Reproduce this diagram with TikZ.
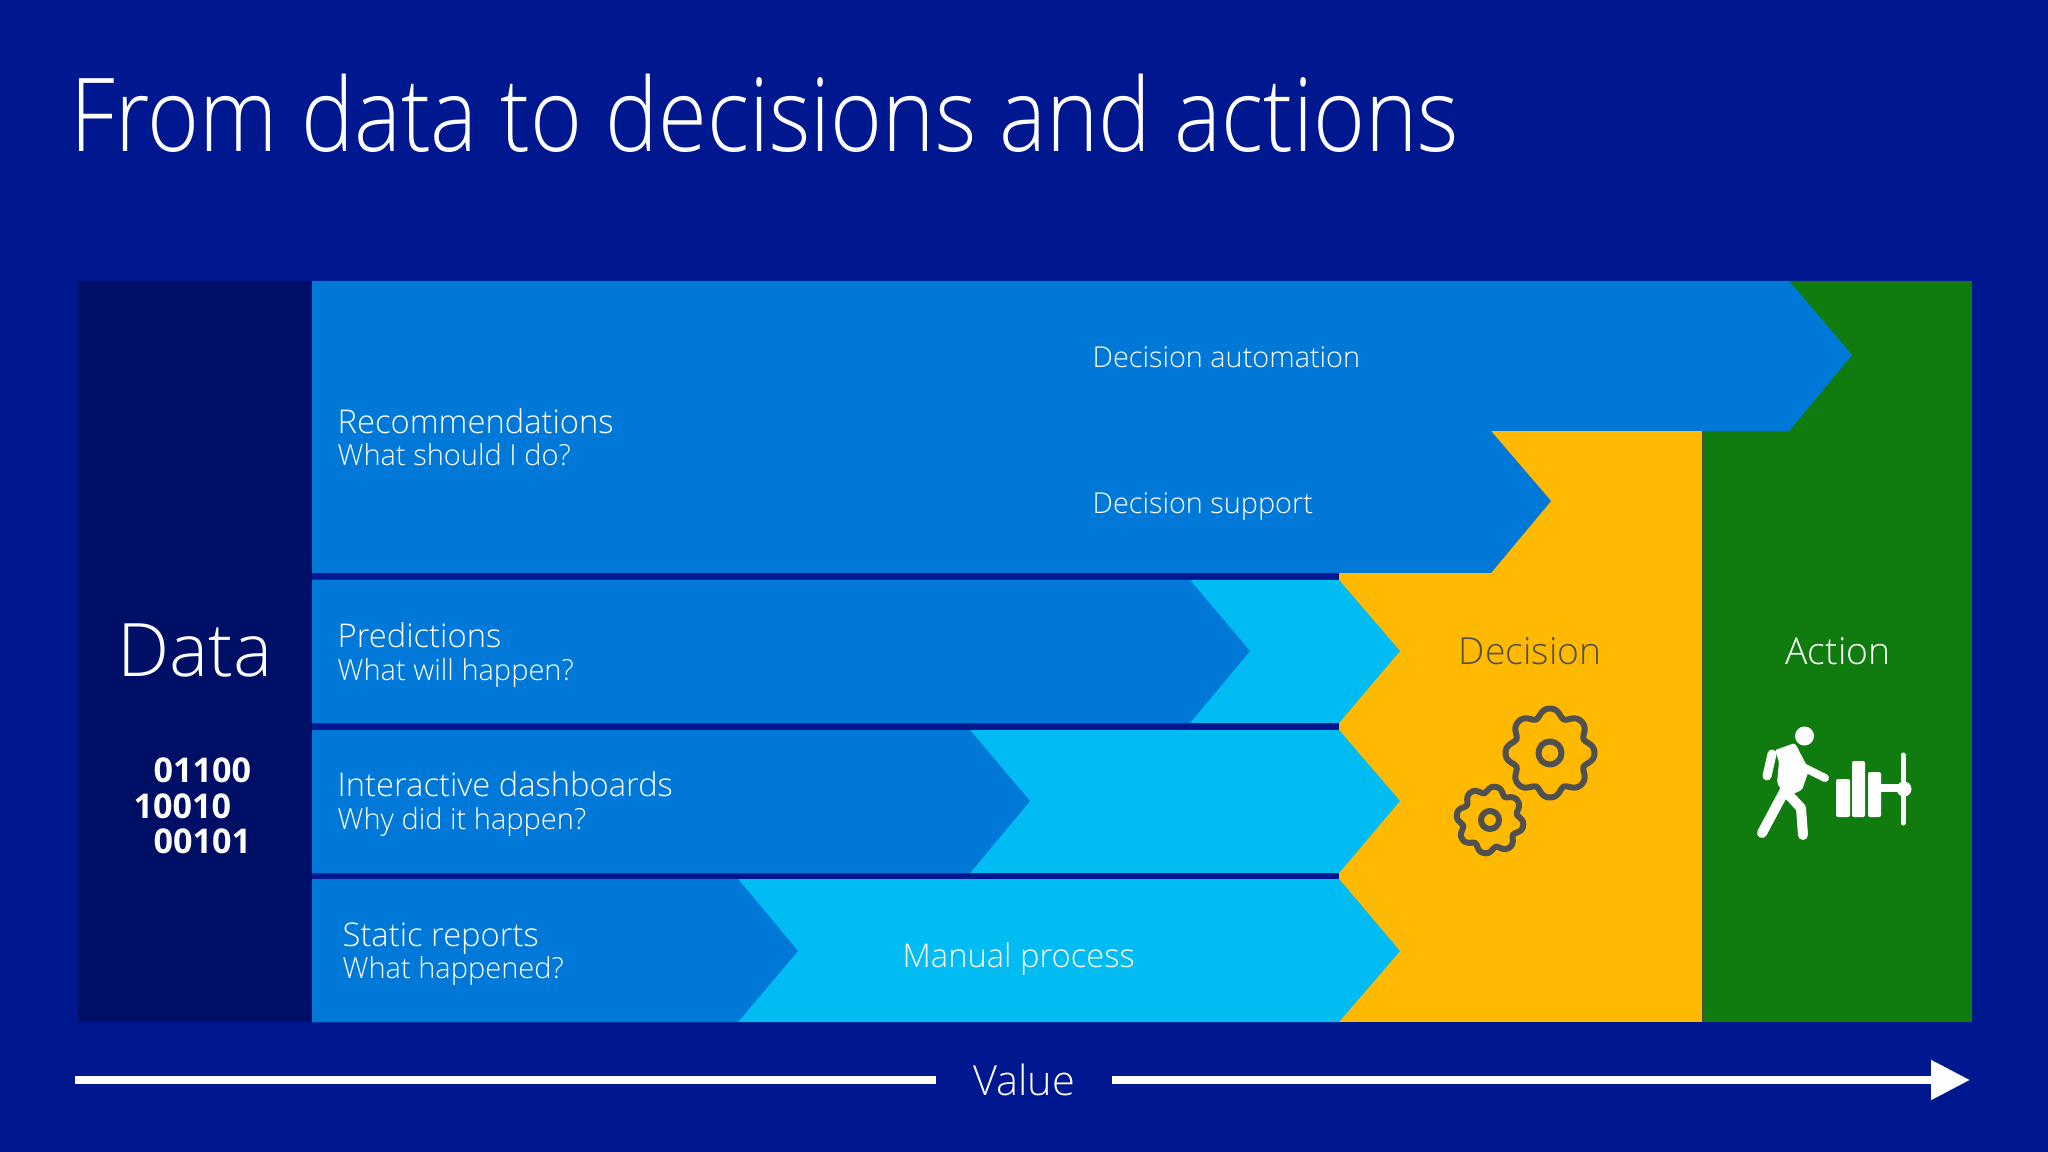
\documentclass[tikz,border=0pt]{standalone}
\usepackage{fontspec}
\setmainfont{Open Sans Light}
\newfontfamily\digitfont{Open Sans Bold}
\usetikzlibrary{arrows.meta}
\definecolor{bgblue}{HTML}{00188F}
\definecolor{datablue}{HTML}{000F66}
\definecolor{midblue}{HTML}{0078D7}
\definecolor{skyblue}{HTML}{00BCF2}
\definecolor{decyellow}{HTML}{FFB900}
\definecolor{actgreen}{HTML}{107C10}
\definecolor{geargray}{HTML}{505050}
\tikzstyle{title} = [anchor=base west, inner sep=0pt, text=white, xscale=0.87, font=\fontsize{29}{35}\selectfont]
\tikzstyle{head} = [anchor=base west, inner sep=0pt, text=white, font=\fontsize{9.3}{11}\selectfont]
\tikzstyle{sub} = [anchor=base west, inner sep=0pt, text=white, font=\fontsize{8.25}{10}\selectfont]
\tikzstyle{process} = [anchor=base west, inner sep=0pt, text=white, font=\fontsize{8.2}{10}\selectfont]
\tikzstyle{stage} = [anchor=base, inner sep=0pt, font=\fontsize{10.6}{13}\selectfont]
\tikzstyle{bits} = [anchor=base west, inner sep=0pt, text=white, font=\digitfont\fontsize{9.7}{12}\selectfont]
\tikzstyle{arrow} = [white, line width=8*0.01cm]
\tikzstyle{gear} = [geargray, line width=6*0.01cm, line join=round]
\tikzstyle{limb} = [white, line width=10*0.01cm, line cap=round, line join=round]
\newcommand{\gearpath}[4]{\draw[gear] plot[domain=0:360, samples=289, smooth] ({#1+#3*(1+0.1*cos(8*(\x-#4))-0.015*cos(16*(\x-#4)))*cos(\x)}, {#2+#3*(1+0.1*cos(8*(\x-#4))-0.015*cos(16*(\x-#4)))*sin(\x)}) -- cycle;}
\begin{document}
\begin{tikzpicture}[x=0.01cm, y=-0.01cm]
        \useasboundingbox (0,0) rectangle (2048,1152);
        \fill[bgblue] (0,0) rectangle (2048,1152);

        % Title
        \node (title) [title] at (70,152) {From data to decisions and actions};

        % Panels
        \fill[datablue] (78,281) rectangle (312,1022);
        \fill[actgreen] (1703,281) rectangle (1972,1022);
        \fill[decyellow] (1339,431) rectangle (1703,1022);
        \draw[black!70, line width=1.5*0.01cm] (1703,431) -- (1703,1022);

        % Chevrons
        \fill[midblue] (312,281) -- (1789,281) -- (1852,355) -- (1789,431) -- (1491,431) -- (1551,501) -- (1491,573) -- (312,573) -- cycle;
        \fill[skyblue] (312,580) -- (1339,580) -- (1400,651) -- (1339,723) -- (312,723) -- cycle;
        \fill[skyblue] (312,730) -- (1339,730) -- (1400,801) -- (1339,873) -- (312,873) -- cycle;
        \fill[skyblue] (312,879) -- (1339,879) -- (1400,951) -- (1339,1022) -- (312,1022) -- cycle;
        \fill[midblue] (312,580) -- (1190,580) -- (1250,651) -- (1190,723) -- (312,723) -- cycle;
        \fill[midblue] (312,730) -- (970,730) -- (1030,801) -- (970,873) -- (312,873) -- cycle;
        \fill[midblue] (312,879) -- (738,879) -- (798,951) -- (738,1022) -- (312,1022) -- cycle;

        % Data column
        \node (data) [anchor=base, inner sep=0pt, text=white, font=\fontsize{21}{25}\selectfont] at (195,676) {Data};
        \node (bits1) [bits] at (153,782) {01100};
        \node (bits2) [bits] at (133,818) {10010};
        \node (bits3) [bits] at (153,853) {00101};

        % Rows
        \node (rec) [head] at (337,433.5) {Recommendations};
        \node (recsub) [sub] at (337,466) {What should I do?};
        \node (pred) [head] at (337,647) {Predictions};
        \node (predsub) [sub] at (337,680) {What will happen?};
        \node (dash) [head] at (337,796.5) {Interactive dashboards};
        \node (dashsub) [sub] at (337,829) {Why did it happen?};
        \node (static) [head] at (342,946) {Static reports};
        \node (staticsub) [sub] at (342,978) {What happened?};

        % Process labels
        \node (auto) [process] at (1092,368) {Decision automation};
        \node (support) [process] at (1092,514) {Decision support};
        \node (manual) [process, font=\fontsize{9.3}{11}\selectfont] at (902,967) {Manual process};

        % Stages
        \node (decision) [stage, text=geargray] at (1530,664) {Decision};
        \node (action) [stage, text=white] at (1838,664) {Action};

        % Gears
        \gearpath{1550}{753}{41}{0}
        \draw[gear] (1550,753) circle (11.5);
        \gearpath{1490}{820}{31}{10}
        \draw[gear] (1490,820) circle (9);

        % Walker
        \fill[white] (1804.5,736) circle (9.5);
        \fill[white, rounded corners=2*0.01cm] (1775,750) -- (1795,743) -- (1809,770) -- (1802,790) -- (1786,797) -- (1777,783) -- (1779,762) -- cycle;
        \draw[limb, line width=9*0.01cm] (1772,754) -- (1767,776);
        \draw[limb, line width=8*0.01cm] (1805,768) -- (1825,778);
        \draw[limb] (1785,790) -- (1762,833);
        \draw[limb] (1786,792) -- (1801,808) -- (1803,835);

        % Bars
        \fill[white, rounded corners=2*0.01cm] (1836,779) rectangle (1850,817);
        \fill[white, rounded corners=2*0.01cm] (1852,761) rectangle (1865,817);
        \fill[white, rounded corners=2*0.01cm] (1868,772) rectangle (1881,817);
        \fill[white] (1881,784) rectangle (1903,792);
        \draw[white, line width=5*0.01cm, line cap=round] (1903,755) -- (1903,823);
        \fill[white] (1904,789) circle (7.5);

        % Value axis
        \node (value) [anchor=base, inner sep=0pt, text=white, font=\fontsize{11.8}{14}\selectfont] at (1024,1095) {Value};
        \coordinate (axisstart) at (75,1080);
        \coordinate (axisleft) at (936,1080);
        \coordinate (axisright) at (1112,1080);
        \coordinate (axisend) at (1970,1080);
        \draw[arrow] (axisstart) -- (axisleft);
        \draw[arrow, -{Triangle[length=39*0.01cm, width=38*0.01cm]}] (axisright) -- (axisend);
\end{tikzpicture}
\end{document}
